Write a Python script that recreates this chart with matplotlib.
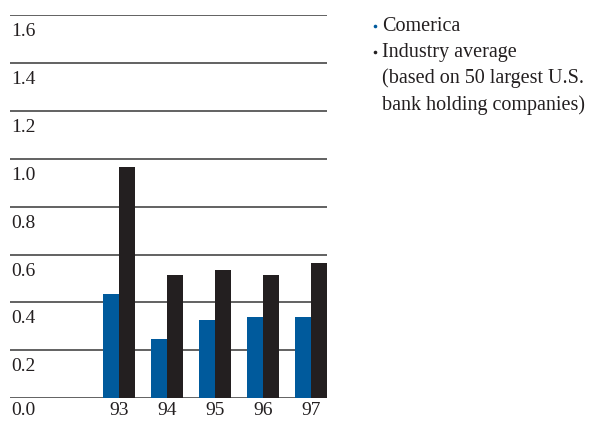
import numpy as np
import matplotlib.pyplot as plt
from matplotlib.lines import Line2D

plt.rcParams['font.family'] = 'serif'
plt.rcParams['font.serif'] = ['Liberation Serif', 'Times New Roman', 'DejaVu Serif']

# Ratio data, 1993-1997
years = ['93', '94', '95', '96', '97']
comerica = [0.434, 0.246, 0.327, 0.338, 0.338]
industry = [0.967, 0.515, 0.536, 0.515, 0.566]
y_ticks = [0.0, 0.2, 0.4, 0.6, 0.8, 1.0, 1.2, 1.4, 1.6]
legend_lines = ['Comerica', 'Industry average',
                '(based on 50 largest U.S.', 'bank holding companies)']

blue = '#005a9c'
black = '#231f20'
grid_grey = '#555555'
text_col = '#231f20'

W, H = 598, 421
fig = plt.figure(figsize=(W / 100, H / 100), dpi=100)

# plot area in pixels: x 10..327, value 0 at y=398.3, 1.6 at y=15
left, right = 10, 327
y0, y16 = 398.3, 15
px_per_unit = (y0 - y16) / 1.6
ax = fig.add_axes([left / W, (H - y0) / H, (right - left) / W, (y0 - y16) / H])
ax.set_ylim(0, 1.6)
ax.set_xlim((left - 119) / 48, (right - 119) / 48)
ax.axis('off')

x = np.arange(len(years))
w = 0.327
ax.bar(x - w / 2, comerica, width=w, color=blue, zorder=3)
ax.bar(x + w / 2, industry, width=w, color=black, zorder=3)

# labels sit under each rule; the bottom row is pulled up a bit to stay on the page
drop = 21 / px_per_unit
drop_bottom = 17 / px_per_unit
for t in y_ticks:
    ax.axhline(t, color=grid_grey, lw=1.3, zorder=1)
    d = drop_bottom if t == 0 else drop
    ax.text(0.005, t - d, f'{t:.1f}', transform=ax.get_yaxis_transform(),
            ha='left', va='baseline', fontsize=14, color=text_col)

for xi, yr in zip(x, years):
    ax.text(xi, -drop_bottom, yr, ha='center', va='baseline', fontsize=14,
            color=text_col)

# legend block on the right
fx = lambda px: px / W
fy = lambda py: 1 - py / H
for py, c in [(26, blue), (52, black)]:
    fig.add_artist(Line2D([fx(375)], [fy(py)], marker='o', ms=2.6, mew=0,
                          color=c, transform=fig.transFigure))
for i, line in enumerate(legend_lines):
    fig.text(fx(382.5), fy(30.7 + 26.4 * i), line, fontsize=14.5, color=text_col,
             ha='left', va='baseline')

fig.savefig('out.png', dpi=100)
